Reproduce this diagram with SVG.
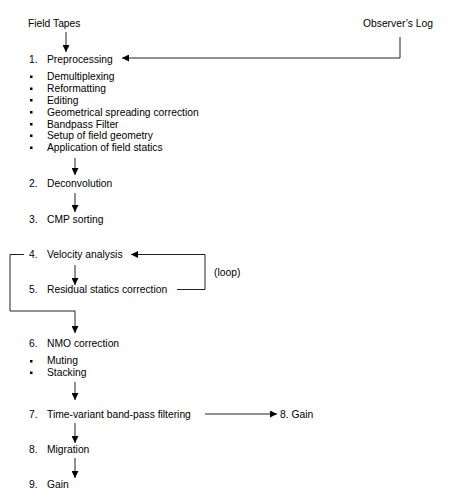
<svg xmlns="http://www.w3.org/2000/svg" width="474" height="498" viewBox="0 0 474 498">
<style>
text{font-family:"Liberation Sans",Arial,sans-serif;font-size:10.3px;fill:#000}
.c{fill:none;stroke:#222;stroke-width:1}
.b{fill:#000}
</style>
<defs>
<marker id="ah" viewBox="0 0 10 10" refX="10" refY="5" markerWidth="7" markerHeight="7" markerUnits="userSpaceOnUse" orient="auto">
<path d="M0,0 L10,5 L0,10 z" fill="#000"/>
</marker>
</defs>
<rect width="474" height="498" fill="#fff"/>
<g id="field-tapes"><text x="28" y="27">Field Tapes</text></g>
<g id="observers-log"><text x="363" y="27">Observer’s Log</text></g>
<g id="n1"><text x="29" y="63">1.</text><text x="47" y="63">Preprocessing</text>
<g class="b"><rect x="30" y="75.5" width="2.5" height="2.5"/><rect x="30" y="87.5" width="2.5" height="2.5"/><rect x="30" y="99" width="2.5" height="2.5"/><rect x="30" y="111" width="2.5" height="2.5"/><rect x="30" y="123" width="2.5" height="2.5"/><rect x="30" y="134.5" width="2.5" height="2.5"/><rect x="30" y="146.5" width="2.5" height="2.5"/></g>
<text x="47" y="80">Demultiplexing</text>
<text x="47" y="92">Reformatting</text>
<text x="47" y="103.5">Editing</text>
<text x="47" y="115.5">Geometrical spreading correction</text>
<text x="47" y="127.5">Bandpass Filter</text>
<text x="47" y="139">Setup of field geometry</text>
<text x="47" y="151">Application of field statics</text>
</g>
<g id="n2"><text x="29" y="187">2.</text><text x="47" y="187">Deconvolution</text></g>
<g id="n3"><text x="29" y="222.5">3.</text><text x="47" y="222.5">CMP sorting</text></g>
<g id="n4"><text x="29" y="258">4.</text><text x="47" y="258">Velocity analysis</text></g>
<g id="n5"><text x="29" y="293">5.</text><text x="47" y="293">Residual statics correction</text></g>
<g id="loop-label"><text x="214" y="276">(loop)</text></g>
<g id="n6"><text x="29" y="347">6.</text><text x="47" y="347">NMO correction</text>
<g class="b"><rect x="30" y="360" width="2.5" height="2.5"/><rect x="30" y="371.5" width="2.5" height="2.5"/></g>
<text x="47" y="364">Muting</text>
<text x="47" y="376">Stacking</text>
</g>
<g id="n7"><text x="29" y="418">7.</text><text x="47" y="418">Time-variant band-pass filtering</text></g>
<g id="n8b"><text x="280" y="418">8. Gain</text></g>
<g id="n8"><text x="29" y="453">8.</text><text x="47" y="453">Migration</text></g>
<g id="n9"><text x="29" y="488">9.</text><text x="47" y="488">Gain</text></g>
<g id="connectors">
<path class="c" d="M66,32 V52" marker-end="url(#ah)"/>
<path class="c" d="M400,37 V58 H122" marker-end="url(#ah)"/>
<path class="c" d="M75,158 V175" marker-end="url(#ah)"/>
<path class="c" d="M75,193 V212" marker-end="url(#ah)"/>
<path class="c" d="M75,265 V285" marker-end="url(#ah)"/>
<path class="c" d="M177,289.5 H205 V254.5 H131" marker-end="url(#ah)"/>
<path class="c" d="M24,254.5 H10 V311 H75 V333" marker-end="url(#ah)"/>
<path class="c" d="M75,382 V400" marker-end="url(#ah)"/>
<path class="c" d="M205,414 H277" marker-end="url(#ah)"/>
<path class="c" d="M75,423 V443" marker-end="url(#ah)"/>
<path class="c" d="M75,458 V478" marker-end="url(#ah)"/>
</g>
</svg>
